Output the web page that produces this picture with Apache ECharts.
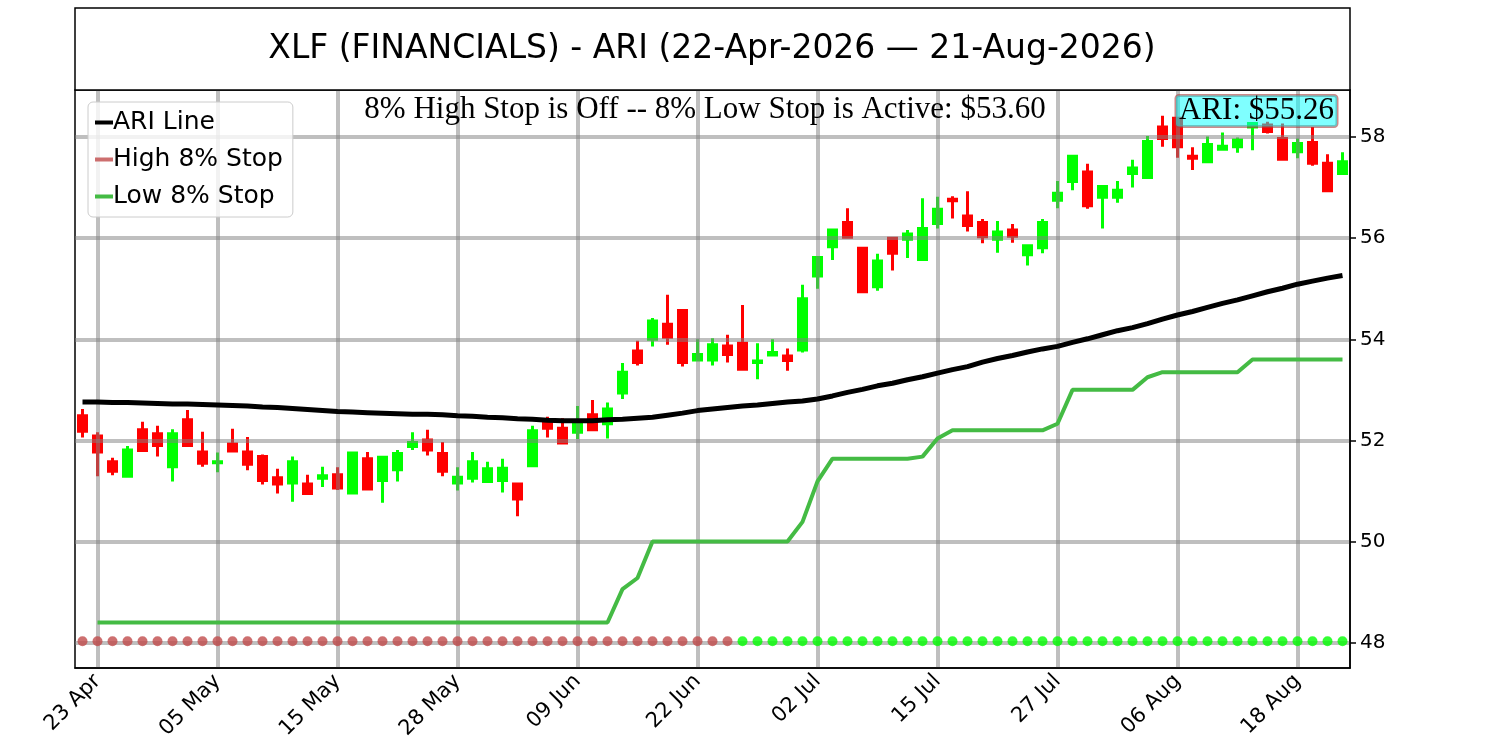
<!DOCTYPE html>
<html lang="en">
<head>
    <meta charset="UTF-8">
    <title>XLF (FINANCIALS) - ARI</title>
    <script type="text/javascript" src="https://cdn.jsdelivr.net/npm/echarts@6/dist/echarts.min.js"></script>
    <style>
        body { margin: 0; background: #fff; }
    </style>
</head>
<body>
<div id="main" style="height: 750px; width: 1500px"></div>
<script>
    // trading days, 22 Apr 2026 .. 21 Aug 2026
    let dates = [
        '22 Apr', '23 Apr', '24 Apr', '27 Apr', '28 Apr', '29 Apr', '30 Apr',
        '01 May', '04 May', '05 May', '06 May', '07 May', '08 May', '11 May', '12 May', '13 May', '14 May', '15 May',
        '18 May', '19 May', '20 May', '21 May', '22 May', '26 May', '27 May', '28 May', '29 May',
        '01 Jun', '02 Jun', '03 Jun', '04 Jun', '05 Jun', '08 Jun', '09 Jun', '10 Jun', '11 Jun', '12 Jun',
        '15 Jun', '16 Jun', '17 Jun', '18 Jun', '22 Jun', '23 Jun', '24 Jun', '25 Jun', '26 Jun', '29 Jun', '30 Jun',
        '01 Jul', '02 Jul', '06 Jul', '07 Jul', '08 Jul', '09 Jul', '10 Jul', '13 Jul', '14 Jul', '15 Jul', '16 Jul', '17 Jul',
        '20 Jul', '21 Jul', '22 Jul', '23 Jul', '24 Jul', '27 Jul', '28 Jul', '29 Jul', '30 Jul', '31 Jul',
        '03 Aug', '04 Aug', '05 Aug', '06 Aug', '07 Aug', '10 Aug', '11 Aug', '12 Aug', '13 Aug', '14 Aug',
        '17 Aug', '18 Aug', '19 Aug', '20 Aug', '21 Aug'
    ];

    let opens = [
        52.49, 52.09, 51.58, 51.29, 52.21, 52.13, 51.48, 52.41, 51.77, 51.56,
        51.93, 51.77, 51.68, 51.26, 51.16, 51.14, 51.25, 51.32, 50.96, 51.64,
        51.21, 51.42, 51.88, 52.01, 51.74, 51.16, 51.25, 51.19, 51.21, 51.14,
        51.50, 52.37, 52.24, 52.16, 52.51, 52.33, 52.94, 53.77, 54.00, 54.30,
        54.57, 53.59, 53.59, 53.87, 53.92, 53.54, 53.69, 53.67, 53.79, 55.25,
        55.83, 56.31, 55.80, 55.04, 56.00, 55.98, 55.58, 56.29, 56.77, 56.44,
        56.31, 55.98, 56.16, 55.67, 55.81, 56.75, 57.12, 57.31, 56.81, 56.81,
        57.28, 57.20, 58.20, 58.37, 57.62, 57.51, 57.76, 57.81, 58.20, 58.24,
        57.97, 57.71, 57.89, 57.48, 57.28
    ];
    let closes = [
        52.18, 51.77, 51.39, 51.81, 51.80, 51.90, 52.13, 51.90, 51.55, 51.58,
        51.79, 51.53, 51.21, 51.14, 51.58, 50.95, 51.30, 51.06, 51.75, 51.04,
        51.67, 51.74, 51.96, 51.81, 51.39, 51.27, 51.58, 51.44, 51.45, 50.84,
        52.19, 52.24, 51.95, 52.37, 52.21, 52.62, 53.35, 53.54, 54.36, 54.04,
        53.54, 53.70, 53.89, 53.70, 53.41, 53.57, 53.74, 53.58, 54.80, 55.62,
        56.16, 56.02, 54.94, 55.55, 55.70, 56.08, 56.19, 56.57, 56.74, 56.25,
        56.03, 56.12, 56.04, 55.85, 56.31, 56.89, 57.62, 56.64, 57.02, 56.95,
        57.39, 57.91, 57.97, 57.81, 57.58, 57.85, 57.82, 57.94, 58.27, 58.11,
        57.56, 57.87, 57.48, 56.94, 57.51
    ];
    let lows = [
        52.06, 51.29, 51.31, 51.29, 51.78, 51.68, 51.19, 51.90, 51.48, 51.37,
        51.76, 51.41, 51.13, 50.95, 50.79, 50.95, 51.08, 51.02, 50.94, 51.03,
        50.77, 51.19, 51.81, 51.70, 51.29, 51.01, 51.17, 51.17, 50.97, 50.50,
        51.48, 52.06, 51.95, 52.03, 52.20, 52.04, 52.82, 53.48, 53.86, 53.89,
        53.46, 53.59, 53.48, 53.54, 53.40, 53.21, 53.69, 53.38, 53.74, 55.00,
        55.57, 56.02, 54.94, 54.96, 55.36, 55.61, 55.58, 56.19, 56.39, 56.13,
        55.90, 55.71, 55.91, 55.46, 55.70, 56.59, 56.95, 56.58, 56.19, 56.70,
        57.00, 57.20, 57.81, 57.59, 57.35, 57.48, 57.74, 57.69, 57.74, 58.07,
        57.56, 57.58, 57.43, 56.94, 57.25
    ];
    let highs = [
        52.62, 52.16, 51.66, 51.89, 52.37, 52.29, 52.22, 52.60, 52.17, 51.76,
        52.23, 52.07, 51.72, 51.44, 51.68, 51.32, 51.48, 51.47, 51.77, 51.77,
        51.68, 51.81, 52.16, 52.21, 51.97, 51.47, 51.77, 51.58, 51.64, 51.14,
        52.29, 52.47, 52.44, 52.68, 52.80, 52.75, 53.53, 53.97, 54.42, 54.88,
        54.60, 54.00, 54.02, 54.09, 54.68, 53.92, 54.00, 53.82, 55.08, 55.62,
        56.16, 56.59, 55.80, 55.69, 56.02, 56.16, 56.79, 56.82, 56.83, 56.93,
        56.38, 56.34, 56.28, 55.87, 56.38, 57.13, 57.62, 57.47, 57.02, 57.13,
        57.55, 58.02, 58.42, 58.40, 57.80, 58.01, 58.09, 57.99, 58.27, 58.30,
        58.27, 57.97, 58.20, 57.66, 57.70
    ];

    let ariLine = [
        52.76, 52.76, 52.75, 52.75, 52.74, 52.73, 52.72, 52.72, 52.71, 52.70,
        52.69, 52.68, 52.66, 52.65, 52.63, 52.61, 52.59, 52.57, 52.56, 52.55,
        52.54, 52.53, 52.52, 52.52, 52.51, 52.49, 52.48, 52.46, 52.45, 52.43,
        52.42, 52.40, 52.39, 52.39, 52.39, 52.41, 52.42, 52.44, 52.46, 52.50,
        52.54, 52.59, 52.62, 52.65, 52.68, 52.70, 52.73, 52.76, 52.78, 52.82,
        52.88, 52.95, 53.01, 53.08, 53.13, 53.20, 53.26, 53.33, 53.40, 53.46,
        53.55, 53.62, 53.68, 53.75, 53.81, 53.86, 53.94, 54.01, 54.09, 54.17,
        54.23, 54.31, 54.40, 54.48, 54.55, 54.63, 54.71, 54.78, 54.86, 54.94,
        55.01, 55.09, 55.15, 55.21, 55.26
    ];

    let lowStop = [
        null, 48.40, 48.40, 48.40, 48.40, 48.40, 48.40, 48.40, 48.40, 48.40,
        48.40, 48.40, 48.40, 48.40, 48.40, 48.40, 48.40, 48.40, 48.40, 48.40,
        48.40, 48.40, 48.40, 48.40, 48.40, 48.40, 48.40, 48.40, 48.40, 48.40,
        48.40, 48.40, 48.40, 48.40, 48.40, 48.40, 49.06, 49.28, 50.00, 50.00,
        50.00, 50.00, 50.00, 50.00, 50.00, 50.00, 50.00, 50.00, 50.39, 51.19,
        51.64, 51.64, 51.64, 51.64, 51.64, 51.64, 51.68, 52.04, 52.20, 52.20,
        52.20, 52.20, 52.20, 52.20, 52.20, 52.33, 53.00, 53.00, 53.00, 53.00,
        53.00, 53.25, 53.35, 53.35, 53.35, 53.35, 53.35, 53.35, 53.60, 53.60,
        53.60, 53.60, 53.60, 53.60, 53.60
    ];

    // stop state markers along the bottom: 1 = high stop (red), 0 = low stop (green)
    let stopState = [
        1, 1, 1, 1, 1, 1, 1, 1, 1, 1, 1, 1, 1, 1, 1, 1, 1, 1, 1, 1,
        1, 1, 1, 1, 1, 1, 1, 1, 1, 1, 1, 1, 1, 1, 1, 1, 1, 1, 1, 1,
        1, 1, 1, 1, 0, 0, 0, 0, 0, 0, 0, 0, 0, 0, 0, 0, 0, 0, 0, 0,
        0, 0, 0, 0, 0, 0, 0, 0, 0, 0, 0, 0, 0, 0, 0, 0, 0, 0, 0, 0,
        0, 0, 0, 0, 0
    ];
    let markerLevel = 48.03;

    let yTicks = [48, 50, 52, 54, 56, 58];

    let titleText = 'XLF (FINANCIALS) - ARI (22-Apr-2026 \u2014 21-Aug-2026)';
    let stopText = '8% High Stop is Off -- 8% Low Stop is Active: $53.60';
    let ariText = 'ARI: $55.26';

    let candles = opens.map(function (o, i) {
        return [o, closes[i], lows[i], highs[i]];
    });
    let highDots = stopState.map(function (s) { return s === 1 ? markerLevel : null; });
    let lowDots = stopState.map(function (s) { return s === 0 ? markerLevel : null; });

    let gridGray = 'rgba(128,128,128,0.5)';
    let every8 = function (index) { return index % 8 === 1; };
    let font = 'DejaVu Sans';

    let myChart = echarts.init(document.getElementById('main'));
    let option = {
        animation: false,
        backgroundColor: '#fff',
        textStyle: { fontFamily: font },
        grid: {
            left: 75, right: 150, top: 90, bottom: 82,
            show: true, borderColor: '#000', borderWidth: 1.5, backgroundColor: '#fff'
        },
        graphic: [
            {
                type: 'rect', z: 5,
                shape: { x: 75, y: 8, width: 1275, height: 82 },
                style: { fill: '#fff', stroke: '#000', lineWidth: 1.5 }
            },
            {
                type: 'text', z: 6,
                style: {
                    x: 712, y: 49, text: titleText, align: 'center', verticalAlign: 'middle',
                    font: '33px "DejaVu Sans"', fill: '#000'
                }
            },
            {
                type: 'text', z: 6,
                style: {
                    x: 705, y: 110, text: stopText, align: 'center', verticalAlign: 'middle',
                    font: '31px "Liberation Serif"', fill: '#000'
                }
            },
            {
                type: 'text', z: 20,
                style: {
                    x: 1337, y: 111, text: ariText, align: 'right', verticalAlign: 'middle',
                    font: '31px "Liberation Serif"', fill: '#000',
                    backgroundColor: 'rgba(0,255,255,0.5)',
                    borderColor: 'rgba(170,60,60,0.6)', borderWidth: 1.5, borderRadius: 3,
                    padding: [0, 3, 0, 3]
                }
            }
        ],
        legend: {
            orient: 'vertical', left: 88, top: 102, z: 10,
            icon: 'rect', itemWidth: 18, itemHeight: 4, itemGap: 12,
            padding: [8, 10, 8, 7],
            backgroundColor: 'rgba(255,255,255,0.8)',
            borderColor: '#cccccc', borderWidth: 1, borderRadius: 5,
            textStyle: { fontSize: 25, color: '#000', fontFamily: font, padding: [0, 0, 0, -5] },
            data: [
                { name: 'ARI Line', itemStyle: { color: '#000' } },
                { name: 'High 8% Stop', itemStyle: { color: '#c04b4b' } },
                { name: 'Low 8% Stop', itemStyle: { color: '#44bb44' } }
            ]
        },
        xAxis: {
            type: 'category', data: dates, boundaryGap: true, z: 2,
            axisLine: { lineStyle: { color: '#000', width: 1.5 } },
            axisTick: { alignWithLabel: true, interval: every8, length: 6, lineStyle: { color: '#000', width: 1.5 } },
            axisLabel: { interval: every8, rotate: 45, fontSize: 21, color: '#000', margin: 10 },
            splitLine: { show: true, alignWithLabel: true, interval: every8, lineStyle: { color: gridGray, width: 4 } }
        },
        yAxis: {
            type: 'value', position: 'right', min: 47.5, max: 58.93, scale: true, z: 2,
            axisLine: { show: true, lineStyle: { color: '#000', width: 1.5 } },
            axisTick: { show: true, customValues: yTicks, length: 6, lineStyle: { color: '#000', width: 1.5 } },
            axisLabel: { customValues: yTicks, fontSize: 20, color: '#000', margin: 10 },
            splitLine: { show: true, lineStyle: { color: gridGray, width: 4 } }
        },
        series: [
            {
                name: 'Price', type: 'candlestick', data: candles, z: 1,
                barWidth: 8,
                itemStyle: {
                    color: '#00ff00', color0: '#ff0000',
                    borderColor: '#00ff00', borderColor0: '#ff0000', borderWidth: 3
                }
            },
            {
                name: 'ARI Line', type: 'line', data: ariLine, z: 3,
                showSymbol: false, symbol: 'none',
                lineStyle: { color: '#000', width: 5 }
            },
            {
                name: 'High 8% Stop', type: 'scatter', data: highDots, z: 3,
                symbol: 'circle', symbolSize: 10,
                itemStyle: { color: '#c04b4b' }
            },
            {
                name: 'Low 8% Stop', type: 'line', data: lowStop, z: 3,
                showSymbol: false, symbol: 'none',
                lineStyle: { color: '#44bb44', width: 4 }
            },
            {
                name: 'Low Dots', type: 'scatter', data: lowDots, z: 3,
                symbol: 'circle', symbolSize: 10,
                itemStyle: { color: '#00ff00' }
            }
        ]
    };
    myChart.setOption(option);
</script>
</body>
</html>
